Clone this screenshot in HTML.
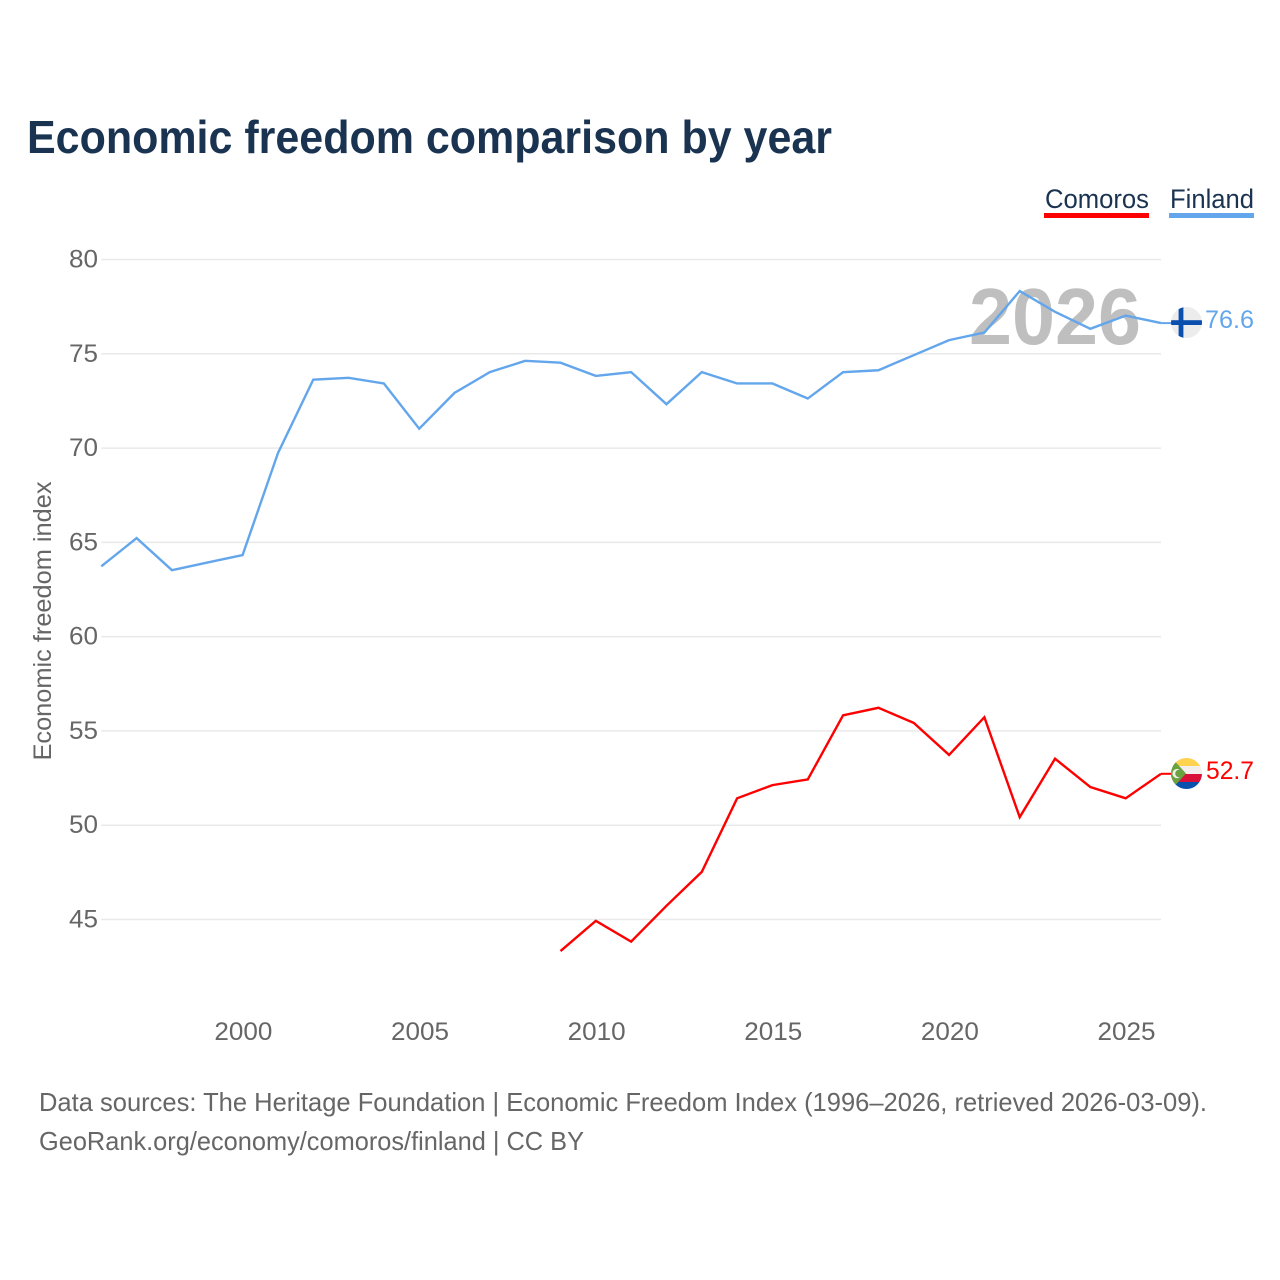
<!DOCTYPE html>
<html lang="en">
<head>
<meta charset="utf-8">
<title>Economic freedom comparison by year</title>
<style>
html,body{margin:0;padding:0;background:#fff;}
svg{display:block;}
text{font-family:"Liberation Sans",sans-serif;}
</style>
</head>
<body>
<svg id="chart" xmlns="http://www.w3.org/2000/svg" width="1280" height="1280" viewBox="0 0 1280 1280">
  <defs>
    <clipPath id="clip-fi"><circle cx="1186.5" cy="322.5" r="15.5"/></clipPath>
    <clipPath id="clip-km"><circle cx="1186.5" cy="773.5" r="15.5"/></clipPath>
  </defs>
  <rect width="1280" height="1280" fill="#fff"/>
  <text x="27" y="153" font-size="46" font-weight="700" fill="#1a3351" textLength="805" lengthAdjust="spacingAndGlyphs">Economic freedom comparison by year</text>

  <g>
    <text x="1045" y="208" font-size="27" fill="#1a3351" textLength="104" lengthAdjust="spacingAndGlyphs">Comoros</text>
    <rect x="1044" y="213" width="105" height="5" fill="#ff0000"/>
  </g>
  <g>
    <text x="1170" y="208" font-size="27" fill="#1a3351" textLength="84" lengthAdjust="spacingAndGlyphs">Finland</text>
    <rect x="1169" y="213" width="85" height="5" fill="#63a6eb"/>
  </g>

  <g id="grid"></g>
  <g id="yticks"></g>
  <g id="xticks"></g>

  <text transform="translate(51,621) rotate(-90)" text-anchor="middle" font-size="25" fill="#666" textLength="279" lengthAdjust="spacingAndGlyphs">Economic freedom index</text>

  <text x="1141" y="344" text-anchor="end" font-size="80" font-weight="700" fill="#bfbfbf" textLength="172" lengthAdjust="spacingAndGlyphs">2026</text>

  <g id="series"></g>

  <g>
    <g clip-path="url(#clip-fi)">
      <rect x="1171" y="307" width="31" height="31" fill="#ececec"/>
      <rect x="1171" y="320.2" width="31" height="4.8" fill="#0a4fae"/>
      <rect x="1178.6" y="307" width="4.8" height="31" fill="#0a4fae"/>
    </g>
  </g>
  <text x="1205" y="328" font-size="25" fill="#63a6eb" textLength="49" lengthAdjust="spacingAndGlyphs">76.6</text>

  <g>
    <g clip-path="url(#clip-km)">
      <rect x="1171" y="758" width="31" height="8" fill="#ffd24f"/>
      <rect x="1171" y="766" width="31" height="8" fill="#f3eeee"/>
      <rect x="1171" y="774" width="31" height="8" fill="#d9103a"/>
      <rect x="1171" y="782" width="31" height="8" fill="#0a50ad"/>
      <path d="M1171 757 L1186 773.5 L1171 790 Z" fill="#6aa23f"/>
      <circle cx="1177" cy="773.5" r="4.6" fill="#f3eeee"/>
      <circle cx="1179" cy="773.5" r="3.8" fill="#6aa23f"/>
    </g>
  </g>
  <text x="1206" y="779" font-size="25" fill="#ff0000" textLength="48" lengthAdjust="spacingAndGlyphs">52.7</text>

  <text x="39" y="1111" font-size="26" fill="#666" textLength="1168" lengthAdjust="spacingAndGlyphs">Data sources: The Heritage Foundation | Economic Freedom Index (1996–2026, retrieved 2026-03-09).</text>
  <text x="39" y="1150" font-size="26" fill="#666" textLength="545" lengthAdjust="spacingAndGlyphs">GeoRank.org/economy/comoros/finland | CC BY</text>
</svg>
<script>
const yTickValues = [45, 50, 55, 60, 65, 70, 75, 80];
const xTickValues = [2000, 2005, 2010, 2015, 2020, 2025];
const finlandYears = [1996,1997,1998,1999,2000,2001,2002,2003,2004,2005,2006,2007,2008,2009,2010,2011,2012,2013,2014,2015,2016,2017,2018,2019,2020,2021,2022,2023,2024,2025,2026];
const finlandValues = [63.7,65.2,63.5,63.9,64.3,69.7,73.6,73.7,73.4,71.0,72.9,74.0,74.6,74.5,73.8,74.0,72.3,74.0,73.4,73.4,72.6,74.0,74.1,74.9,75.7,76.1,78.3,77.2,76.3,77.0,76.6];
const comorosYears = [2009,2010,2011,2012,2013,2014,2015,2016,2017,2018,2019,2020,2021,2022,2023,2024,2025,2026];
const comorosValues = [43.3,44.9,43.8,45.7,47.5,51.4,52.1,52.4,55.8,56.2,55.4,53.7,55.7,50.4,53.5,52.0,51.4,52.7];

const NS = 'http://www.w3.org/2000/svg';
const xScale = function (year) { return 101.3 + (year - 1996) * (1161 - 101.3) / 30; };
const yScale = function (v) { return 259 + (80 - v) * (919 - 259) / 35; };

const grid = document.getElementById('grid');
const yticks = document.getElementById('yticks');
const xticks = document.getElementById('xticks');
const series = document.getElementById('series');

yTickValues.forEach(function (v) {
  const line = document.createElementNS(NS, 'line');
  line.setAttribute('x1', 101.3);
  line.setAttribute('x2', 1161);
  line.setAttribute('y1', yScale(v) + 0.5);
  line.setAttribute('y2', yScale(v) + 0.5);
  line.setAttribute('stroke', '#e9e9e9');
  line.setAttribute('stroke-width', '1.5');
  
  
  grid.appendChild(line);

  const t = document.createElementNS(NS, 'text');
  t.setAttribute('x', 98);
  t.setAttribute('y', yScale(v) + 8.5);
  t.setAttribute('text-anchor', 'end');
  t.setAttribute('font-size', '25');
  t.setAttribute('fill', '#666');
  t.setAttribute('textLength', '29');
  t.setAttribute('lengthAdjust', 'spacingAndGlyphs');
  
  
  t.textContent = v;
  yticks.appendChild(t);
});

xTickValues.forEach(function (v) {
  const t = document.createElementNS(NS, 'text');
  t.setAttribute('x', xScale(v) + 0.8);
  t.setAttribute('y', 1040);
  t.setAttribute('text-anchor', 'middle');
  t.setAttribute('font-size', '25');
  t.setAttribute('fill', '#666');
  t.setAttribute('textLength', '58');
  t.setAttribute('lengthAdjust', 'spacingAndGlyphs');
  
  
  t.textContent = v;
  xticks.appendChild(t);
});

function pathFor(years, values) {
  return years.map(function (y, i) {
    return (i ? 'L' : 'M') + xScale(y).toFixed(2) + ' ' + yScale(values[i]).toFixed(2);
  }).join(' ');
}

const finlandLine = document.createElementNS(NS, 'path');
finlandLine.setAttribute('d', pathFor(finlandYears, finlandValues));
finlandLine.setAttribute('fill', 'none');
finlandLine.setAttribute('stroke', '#63a6eb');
finlandLine.setAttribute('stroke-width', '2.4');


series.appendChild(finlandLine);

const comorosLine = document.createElementNS(NS, 'path');
comorosLine.setAttribute('d', pathFor(comorosYears, comorosValues));
comorosLine.setAttribute('fill', 'none');
comorosLine.setAttribute('stroke', '#ff0000');
comorosLine.setAttribute('stroke-width', '2.4');


series.appendChild(comorosLine);

function leader(years, values, color, name) {
  const last = years.length - 1;
  const l = document.createElementNS(NS, 'line');
  l.setAttribute('x1', xScale(years[last]));
  l.setAttribute('x2', 1172);
  l.setAttribute('y1', yScale(values[last]));
  l.setAttribute('y2', yScale(values[last]));
  l.setAttribute('stroke', color);
  l.setAttribute('stroke-width', '2');
  
  
  series.appendChild(l);
}
leader(finlandYears, finlandValues, '#63a6eb', 'finland-leader');
leader(comorosYears, comorosValues, '#ff0000', 'comoros-leader');
</script>
</body>
</html>
